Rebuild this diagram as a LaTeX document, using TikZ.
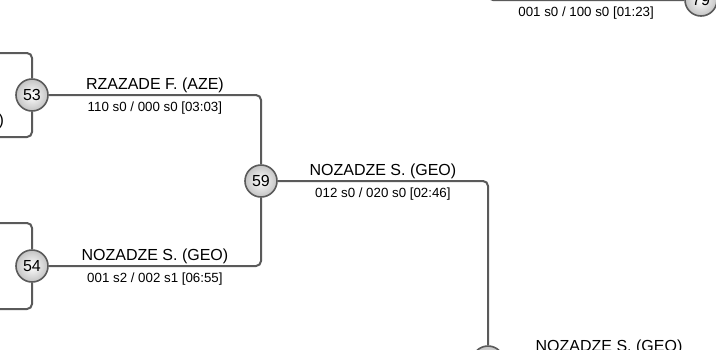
\documentclass[tikz,border=0pt]{standalone}
\usepackage{fontspec}
\setmainfont{Liberation Sans}
\usepackage{tikz}
\usetikzlibrary{calc, positioning, shapes}
\definecolor{linegray}{RGB}{90, 90, 90}
\definecolor{rimgray}{RGB}{195, 195, 195}

\begin{document}
\begin{tikzpicture}[x=1pt, y=-1pt, line width=2pt,
	link/.style={draw=linegray, rounded corners=5pt},
	match/.style={circle, draw=linegray, line width=1.6pt, inner color=white, outer color=rimgray, minimum size=32pt, inner sep=0pt, font=\fontsize{16}{18}\selectfont},
	player/.style={font=\fontsize{16}{18}\selectfont, anchor=base, inner sep=0pt, yshift=6pt},
	score/.style={font=\fontsize{13.3}{15}\selectfont, anchor=base, inner sep=0pt, yshift=-16pt}]
	
	\useasboundingbox (0,0) rectangle (716,349);
	
	% free ends
	\coordinate (in53a) at (-20,53);
	\coordinate (in53b) at (-20,137);
	\coordinate (in54a) at (-20,223);
	\coordinate (in54b) at (-20,309);
	\coordinate (in79) at (488,-40);
	\coordinate (outb) at (740,362);
	
	% matches
	\node[match] (m53) at (32,95) {53};
	\node[match] (m54) at (32,266) {54};
	\node[match] (m59) at (261,181) {59};
	\node[match] (mb) at (488,362) {};
	\node[match] (m79) at (701,0) {79};
	
	% incoming stubs
	\draw[link] (in53a) -| (m53);
	\draw[link] (in53b) -| (m53);
	\draw[link] (in54a) -| (m54);
	\draw[link] (in54b) -| (m54);
	\node[player, anchor=base east, yshift=0pt] (l53b) at (5,131) {E)};
	
	% links with player and score
	\draw[link] (m53) -| node[pos=.25, player] (p53) {RZAZADE F. (AZE)}
		node[pos=.25, score] (s53) {110 s0 / 000 s0 [03:03]} (m59);
	\draw[link] (m54) -| node[pos=.25, player] (p54) {NOZADZE S. (GEO)}
		node[pos=.25, score] (s54) {001 s2 / 002 s1 [06:55]} (m59);
	\draw[link] (m59) -| node[pos=.25, player] (p59) {NOZADZE S. (GEO)}
		node[pos=.25, score] (s59) {012 s0 / 020 s0 [02:46]} (mb);
	\draw[link] (in79) |- node[pos=.75, score] (s79) {001 s0 / 100 s0 [01:23]} (m79);
	\draw[link] (mb) -- (outb);
	\node[player, yshift=0pt] (pb) at (609,357) {NOZADZE S. (GEO)};
	
\end{tikzpicture}
\end{document}
